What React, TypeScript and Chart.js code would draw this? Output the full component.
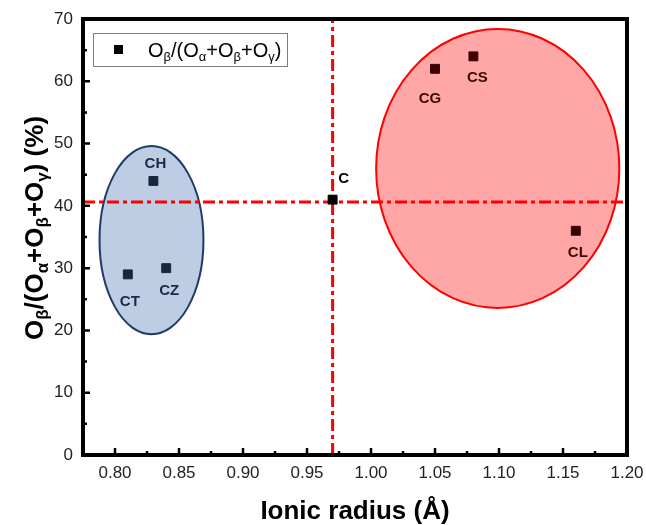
import React, { useEffect, useRef } from 'react';
import { Chart, registerables } from 'chart.js';

Chart.register(...registerables);

// ---- data ----
const BLUE_NAMES = ['CT', 'CH', 'CZ'];
const BLUE_X = [0.81, 0.83, 0.84];
const BLUE_Y = [29, 44, 30];

const C_NAMES = ['C'];
const C_X = [0.97];
const C_Y = [41];

const RED_NAMES = ['CG', 'CS', 'CL'];
const RED_X = [1.05, 1.08, 1.16];
const RED_Y = [62, 64, 36];

const H_LINE_Y = 40.6;
const V_LINE_X = 0.97;

// ellipses: [centerX, centerY, radiusX, radiusY] in data units
const BLUE_ELLIPSE = [0.8285, 34.5, 0.0406, 15.1];
const RED_ELLIPSE = [1.099, 46, 0.095, 22.4];

const X_MIN = 0.775;
const X_MAX = 1.2;
const Y_MIN = 0;
const Y_MAX = 70;
const X_TICKS = [0.8, 0.85, 0.9, 0.95, 1.0, 1.05, 1.1, 1.15, 1.2];
const X_TICK_LABELS = ['0.80', '0.85', '0.90', '0.95', '1.00', '1.05', '1.10', '1.15', '1.20'];
const X_MINOR = [0.825, 0.875, 0.925, 0.975, 1.025, 1.075, 1.125, 1.175];
const Y_TICKS = [0, 10, 20, 30, 40, 50, 60, 70];
const Y_TICK_LABELS = ['0', '10', '20', '30', '40', '50', '60', '70'];
const Y_MINOR = [5, 15, 25, 35, 45, 55, 65];

const X_TITLE = 'Ionic radius (Å)';

// ---- styles ----
const FONT = "'Liberation Sans', Arial, Helvetica, sans-serif";
const LABEL_OFFSETS: Record<string, [number, number]> = {
  CT: [2, 27],
  CH: [2, -17],
  CZ: [3, 23],
  C: [11, -21],
  CG: [-5, 30],
  CS: [4, 21],
  CL: [2, 22],
};

type Seg = { t: string; sub?: boolean };
const TITLE_SEGS: Seg[] = [
  { t: 'O' }, { t: 'β', sub: true }, { t: '/(O' }, { t: 'α', sub: true },
  { t: '+O' }, { t: 'β', sub: true }, { t: '+O' }, { t: 'γ', sub: true }, { t: ') (%)' },
];
const LEGEND_SEGS: Seg[] = [
  { t: 'O' }, { t: 'β', sub: true }, { t: '/(O' }, { t: 'α', sub: true },
  { t: '+O' }, { t: 'β', sub: true }, { t: '+O' }, { t: 'γ', sub: true }, { t: ')' },
];

function drawRich(
  ctx: CanvasRenderingContext2D, segs: Seg[], x: number, y: number,
  main: number, sub: number, weight: string, align: 'left' | 'center', drop: number,
) {
  const fm = `${weight} ${main}px ${FONT}`;
  const fs = `${weight} ${sub}px ${FONT}`;
  let total = 0;
  const widths = segs.map((s) => {
    ctx.font = s.sub ? fs : fm;
    const w = ctx.measureText(s.t).width;
    total += w;
    return w;
  });
  let cx = align === 'center' ? x - total / 2 : x;
  ctx.textAlign = 'left';
  ctx.textBaseline = 'alphabetic';
  segs.forEach((s, i) => {
    ctx.font = s.sub ? fs : fm;
    ctx.fillText(s.t, cx, s.sub ? y + drop : y);
    cx += widths[i];
  });
}

const decorPlugin = {
  id: 'decor',
  beforeDatasetsDraw(chart: any) {
    const ctx: CanvasRenderingContext2D = chart.ctx;
    const xs = chart.scales.x;
    const ys = chart.scales.y;
    const drawEllipse = (e: number[], fill: string, stroke: string) => {
      const cx = xs.getPixelForValue(e[0]);
      const cy = ys.getPixelForValue(e[1]);
      const rx = Math.abs(xs.getPixelForValue(e[0] + e[2]) - cx);
      const ry = Math.abs(ys.getPixelForValue(e[1] + e[3]) - cy);
      ctx.save();
      ctx.beginPath();
      ctx.ellipse(cx, cy, rx, ry, 0, 0, Math.PI * 2);
      ctx.fillStyle = fill;
      ctx.fill();
      ctx.lineWidth = 2;
      ctx.strokeStyle = stroke;
      ctx.stroke();
      ctx.restore();
    };
    drawEllipse(BLUE_ELLIPSE, '#bdcde3', '#1f3a64');
    drawEllipse(RED_ELLIPSE, '#ffa6a6', '#ff0000');
  },
  afterDatasetsDraw(chart: any) {
    const ctx: CanvasRenderingContext2D = chart.ctx;
    const xs = chart.scales.x;
    const ys = chart.scales.y;
    const drawLabels = (names: string[], X: number[], Y: number[], color: string) => {
      names.forEach((n, i) => {
        const off = LABEL_OFFSETS[n] || [0, 0];
        ctx.save();
        ctx.font = `bold 15px ${FONT}`;
        ctx.fillStyle = color;
        ctx.textAlign = 'center';
        ctx.textBaseline = 'middle';
        ctx.fillText(n, xs.getPixelForValue(X[i]) + off[0], ys.getPixelForValue(Y[i]) + off[1]);
        ctx.restore();
      });
    };
    drawLabels(BLUE_NAMES, BLUE_X, BLUE_Y, '#1c2a44');
    drawLabels(C_NAMES, C_X, C_Y, '#000000');
    drawLabels(RED_NAMES, RED_X, RED_Y, '#3d0808');
  },
  afterDraw(chart: any) {
    const ctx: CanvasRenderingContext2D = chart.ctx;
    const a = chart.chartArea;
    const xs = chart.scales.x;
    const ys = chart.scales.y;
    ctx.save();
    // inward ticks
    ctx.strokeStyle = '#000';
    ctx.lineWidth = 2.5;
    ctx.beginPath();
    X_TICKS.forEach((v) => {
      const p = xs.getPixelForValue(v);
      ctx.moveTo(p, a.bottom);
      ctx.lineTo(p, a.bottom - 7);
    });
    X_MINOR.forEach((v) => {
      const p = xs.getPixelForValue(v);
      ctx.moveTo(p, a.bottom);
      ctx.lineTo(p, a.bottom - 4);
    });
    Y_TICKS.forEach((v) => {
      const p = ys.getPixelForValue(v);
      ctx.moveTo(a.left, p);
      ctx.lineTo(a.left + 7, p);
    });
    Y_MINOR.forEach((v) => {
      const p = ys.getPixelForValue(v);
      ctx.moveTo(a.left, p);
      ctx.lineTo(a.left + 4, p);
    });
    ctx.stroke();
    // frame
    ctx.lineWidth = 4;
    ctx.strokeRect(a.left, a.top, a.right - a.left, a.bottom - a.top);

    // legend
    ctx.fillStyle = '#fff';
    ctx.fillRect(93, 33, 194, 33);
    ctx.lineWidth = 1;
    ctx.strokeStyle = '#7f7f7f';
    ctx.strokeRect(93.5, 33.5, 194, 33);
    ctx.fillStyle = '#000';
    ctx.fillRect(114, 45, 9, 9);
    drawRich(ctx, LEGEND_SEGS, 148, 57, 20, 13, 'normal', 'left', 3.5);

    // axis titles
    ctx.fillStyle = '#000';
    ctx.font = `bold 26px ${FONT}`;
    ctx.textAlign = 'center';
    ctx.textBaseline = 'alphabetic';
    ctx.fillText(X_TITLE, (a.left + a.right) / 2, 519);

    ctx.translate(43, 228);
    ctx.rotate(-Math.PI / 2);
    drawRich(ctx, TITLE_SEGS, 0, 0, 26, 17, 'bold', 'center', 5);
    ctx.restore();
  },
};

export default function App() {
  const ref = useRef<HTMLCanvasElement>(null);
  useEffect(() => {
    const canvas = ref.current!;
    const toPts = (X: number[], Y: number[]) => X.map((x, i) => ({ x, y: Y[i] }));
    const pointDs = (X: number[], Y: number[], color: string) => ({
      data: toPts(X, Y),
      pointStyle: 'rect',
      pointRadius: 6.3,
      pointHoverRadius: 6.3,
      backgroundColor: color,
      borderColor: color,
      borderWidth: 1,
      showLine: false,
      order: 0,
    });
    const chart = new Chart(canvas, {
      type: 'scatter',
      data: {
        datasets: [
          pointDs(BLUE_X, BLUE_Y, '#1b2739'),
          pointDs(C_X, C_Y, '#000000'),
          pointDs(RED_X, RED_Y, '#3d0000'),
          {
            data: [{ x: X_MIN, y: H_LINE_Y }, { x: X_MAX, y: H_LINE_Y }],
            showLine: true,
            borderColor: '#ff0000',
            borderWidth: 3,
            borderDash: [12, 4, 4, 4],
            pointRadius: 0,
            order: 5,
          } as any,
          {
            data: [{ x: V_LINE_X, y: Y_MIN }, { x: V_LINE_X, y: Y_MAX }],
            showLine: true,
            borderColor: '#ff0000',
            borderWidth: 3,
            borderDash: [12, 4, 4, 4],
            pointRadius: 0,
            order: 5,
          } as any,
        ] as any,
      },
      options: {
        responsive: false,
        animation: false,
        devicePixelRatio: 1,
        layout: { padding: { top: 19, right: 19, left: 0, bottom: 0 } },
        plugins: { legend: { display: false }, tooltip: { enabled: false } },
        events: [],
        scales: {
          x: {
            type: 'linear',
            min: X_MIN,
            max: X_MAX,
            grid: { display: false, drawTicks: false },
            border: { display: false },
            afterBuildTicks: (s: any) => { s.ticks = X_TICKS.map((value) => ({ value })); },
            afterFit: (s: any) => {
              s.height = 70;
              s.paddingLeft = 0;
              s.paddingRight = 0;
              s.paddingTop = 0;
              s.paddingBottom = 0;
            },
            ticks: {
              autoSkip: false,
              maxRotation: 0,
              padding: 8,
              color: '#222',
              font: { size: 17, family: FONT },
              callback: (_v: any, i: number) => X_TICK_LABELS[i],
            },
          },
          y: {
            type: 'linear',
            min: Y_MIN,
            max: Y_MAX,
            grid: { display: false, drawTicks: false },
            border: { display: false },
            afterBuildTicks: (s: any) => { s.ticks = Y_TICKS.map((value) => ({ value })); },
            afterFit: (s: any) => {
              s.width = 83;
              s.paddingLeft = 0;
              s.paddingRight = 0;
              s.paddingTop = 0;
              s.paddingBottom = 0;
            },
            ticks: {
              autoSkip: false,
              padding: 10,
              color: '#222',
              font: { size: 17, family: FONT },
              callback: (_v: any, i: number) => Y_TICK_LABELS[i],
            },
          },
        } as any,
      },
      plugins: [decorPlugin],
    });
    return () => chart.destroy();
  }, []);
  return (
    <div style={{ position: 'fixed', left: 0, top: 0, width: 646, height: 525, background: '#fff' }}>
      <canvas ref={ref} width={646} height={525} style={{ display: 'block', width: 646, height: 525 }} />
    </div>
  );
}
